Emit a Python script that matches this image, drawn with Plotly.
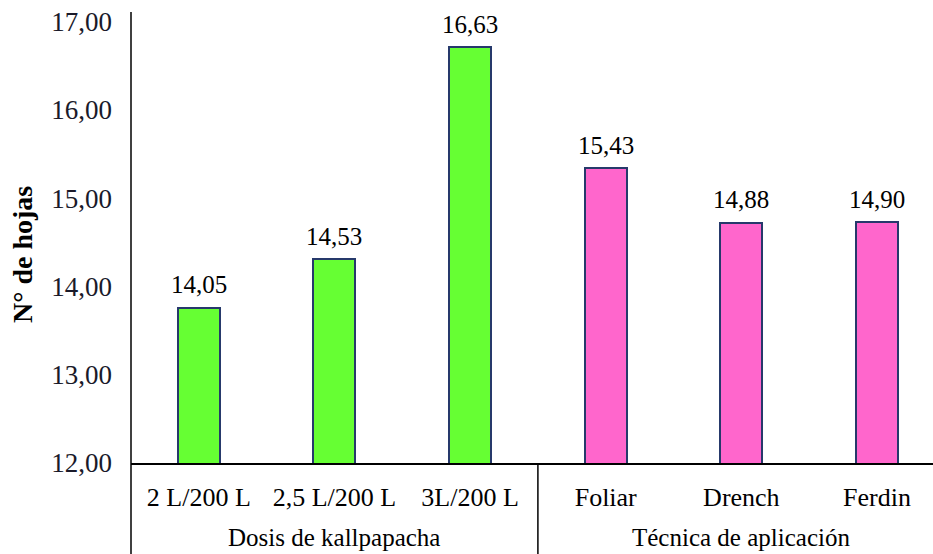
import plotly.graph_objects as go

categories = ["2 L/200 L", "2,5 L/200 L", "3L/200 L", "Foliar", "Drench", "Ferdin"]
bar_heights = [13.76, 14.31, 16.71, 15.34, 14.72, 14.73]
value_labels = ["14,05", "14,53", "16,63", "15,43", "14,88", "14,90"]
bar_colors = ["#66FF33", "#66FF33", "#66FF33", "#FF66CC", "#FF66CC", "#FF66CC"]
groups = ["Dosis de kallpapacha", "Técnica de aplicación"]
group_centers = [1, 4]
y_title = "N° de hojas"

FONT = "Liberation Serif"
W, H = 933, 554
ML, MT, MB = 131, 12, 91
x_range = [-0.5, 5.413]
y_range = [12, 17.11]
plot_h = H - MT - MB
plot_w = W - ML

fig = go.Figure()
fig.add_trace(go.Bar(
    x=list(range(len(categories))), y=bar_heights,
    width=0.31,
    marker=dict(color=bar_colors, line=dict(color="#26396B", width=2)),
    hoverinfo="skip",
))

annotations = []
for i, (v, t) in enumerate(zip(bar_heights, value_labels)):
    annotations.append(dict(x=i, y=v, xref="x", yref="y", text=t, showarrow=False,
                            yanchor="middle", yshift=23,
                            font=dict(family=FONT, size=25, color="#000")))
row2_y = -(537 - (H - MB)) / plot_h
for g, c in zip(groups, group_centers):
    annotations.append(dict(x=c, y=row2_y, xref="x", yref="paper", text=g, showarrow=False,
                            yanchor="middle", font=dict(family=FONT, size=25, color="#000")))
annotations.append(dict(x=(22 - ML) / plot_w, y=(H - MB - 255) / plot_h, xref="paper", yref="paper",
                        text="<b>" + y_title + "</b>", textangle=-90, showarrow=False,
                        xanchor="center", yanchor="middle",
                        font=dict(family=FONT, size=28, color="#000")))

bottom = -MB / plot_h
sep_x = (2.5 - x_range[0]) / (x_range[1] - x_range[0])
shapes = [
    dict(type="line", xref="paper", yref="paper", x0=0, x1=0, y0=1, y1=bottom,
         line=dict(color="#000", width=1.5)),
    dict(type="line", xref="paper", yref="paper", x0=sep_x, x1=sep_x, y0=0, y1=bottom,
         line=dict(color="#000", width=1.5)),
]

fig.update_layout(
    width=W, height=H,
    margin=dict(l=ML, r=0, t=MT, b=MB, pad=0, autoexpand=False),
    plot_bgcolor="white", paper_bgcolor="white",
    showlegend=False,
    separators=",.",
    annotations=annotations,
    shapes=shapes,
    bargap=0,
)
fig.update_xaxes(
    range=x_range, tickmode="array", tickvals=list(range(len(categories))), ticktext=categories,
    showline=True, linecolor="#000", linewidth=1.5, showgrid=False, zeroline=False,
    ticks="", ticklabelstandoff=10, automargin=False,
    tickfont=dict(family=FONT, size=26, color="#000"),
)
fig.update_yaxes(
    range=y_range, tickvals=[12, 13, 14, 15, 16, 17], tickformat=".2f",
    showline=False, showgrid=False, zeroline=False, ticks="", automargin=False,
    ticklabelstandoff=18,
    tickfont=dict(family=FONT, size=27, color="#1a1a2a"),
)

fig.write_html("out.html", config={"displayModeBar": False},
               post_script="document.body.style.margin='0';document.body.style.overflow='hidden';")
